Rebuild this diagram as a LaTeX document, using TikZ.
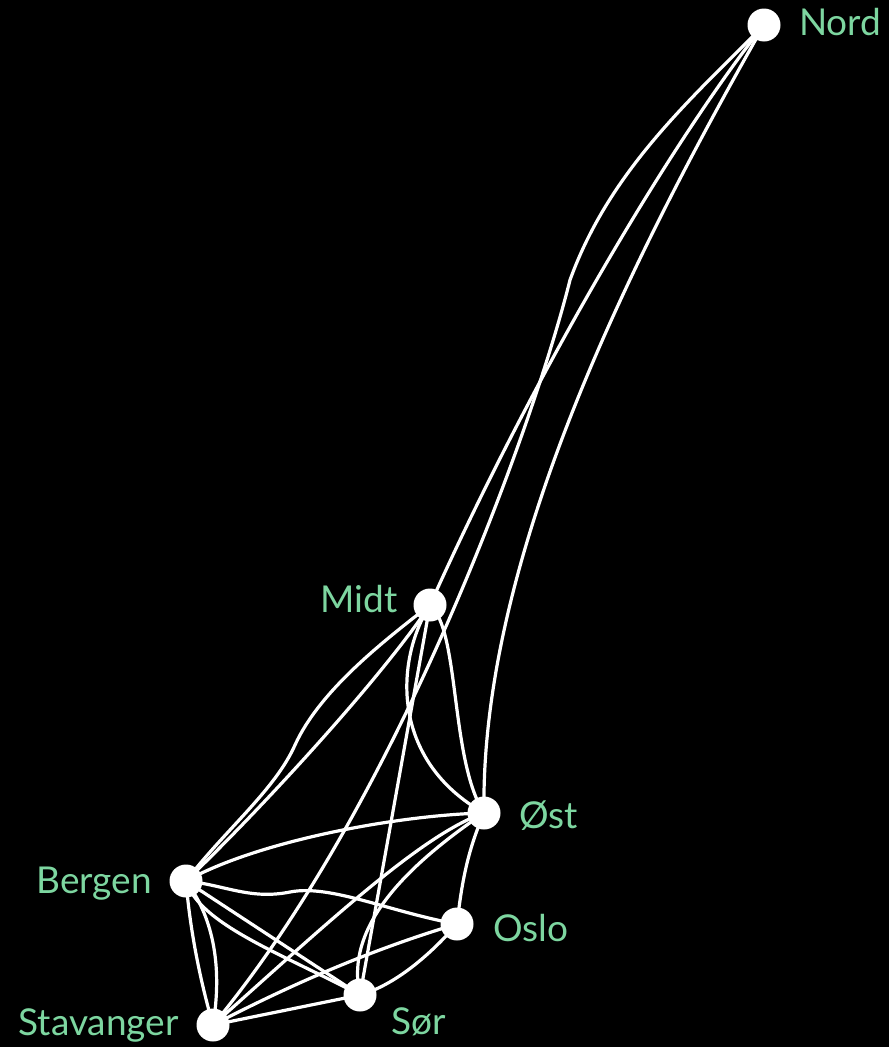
\documentclass[tikz,border=0pt]{standalone}
\usepackage{fontspec}
\setmainfont{Lato}
\definecolor{lab}{RGB}{125,214,160}
\pgfdeclarelayer{bg}
\pgfdeclarelayer{edges}
\pgfsetlayers{bg,edges,main}
\begin{document}
\begin{tikzpicture}[x=1pt,y=-1pt,
  vert/.style={circle,fill=white,minimum size=33pt,inner sep=0pt},
  lbl/.style={text=lab,font=\fontsize{37}{42}\selectfont,inner sep=0pt},
  link/.style={draw=white,line width=3.2pt}]
\begin{pgfonlayer}{bg}
\fill[black] (0,0) rectangle (889,1047);
\end{pgfonlayer}
\useasboundingbox (0,0) rectangle (889,1047);
% nodes
\node[vert] (nord) at (764,25) {};
\node[vert] (midt) at (430,605) {};
\node[vert] (ost) at (484,813) {};
\node[vert] (oslo) at (457,924) {};
\node[vert] (bergen) at (186,881) {};
\node[vert] (stav) at (213,1025) {};
\node[vert] (sor) at (360,995) {};
% labels
\node[lbl,anchor=base west] (lnord) at (799,35) {Nord};
\node[lbl,anchor=base east] (lmidt) at (398,612) {Midt};
\node[lbl,anchor=base west] (lost) at (519,828) {Øst};
\node[lbl,anchor=base west] (loslo) at (493,941) {Oslo};
\node[lbl,anchor=base east] (lbergen) at (152,893) {Bergen};
\node[lbl,anchor=base east] (lstav) at (179,1035) {Stavanger};
\node[lbl,anchor=base west] (lsor) at (391,1034) {Sør};
% edges
\begin{pgfonlayer}{edges}
\path[link] (nord.center) .. controls (680,130) and (540,360) .. (midt.center);
\path[link] (nord.center) .. controls (690,100) and (610,170) .. (570,280)
   .. controls (535,420) and (400,800) .. (stav.center);
\path[link] (nord.center) .. controls (630,260) and (480,560) .. (ost.center);
\path[link] (midt.center) .. controls (385,640) and (320,690) .. (295,745)
   .. controls (275,790) and (225,830) .. (bergen.center);
\path[link] (midt.center) .. controls (380,680) and (260,810) .. (bergen.center);
\path[link] (midt.center) -- (sor.center);
\path[link] (midt.center) .. controls (395,660) and (390,760) .. (ost.center);
\path[link] (midt.center) .. controls (460,630) and (450,760) .. (ost.center);
\path[link] (bergen.center) .. controls (260,840) and (400,815) .. (ost.center);
\path[link] (bergen.center) .. controls (225,885) and (250,900) .. (290,892)
   .. controls (330,884) and (390,912) .. (oslo.center);
\path[link] (bergen.center) -- (sor.center);
\path[link] (bergen.center) .. controls (200,925) and (285,955) .. (sor.center);
\path[link] (bergen.center) .. controls (190,930) and (200,980) .. (stav.center);
\path[link] (bergen.center) .. controls (215,920) and (222,970) .. (stav.center);
\path[link] (ost.center) .. controls (420,835) and (320,930) .. (stav.center);
\path[link] (ost.center) .. controls (400,870) and (345,930) .. (sor.center);
\path[link] (ost.center) .. controls (468,850) and (462,880) .. (oslo.center);
\path[link] (oslo.center) .. controls (370,950) and (290,985) .. (stav.center);
\path[link] (sor.center) .. controls (395,985) and (430,955) .. (oslo.center);
\path[link] (stav.center) -- (sor.center);
\end{pgfonlayer}
\end{tikzpicture}
\end{document}
